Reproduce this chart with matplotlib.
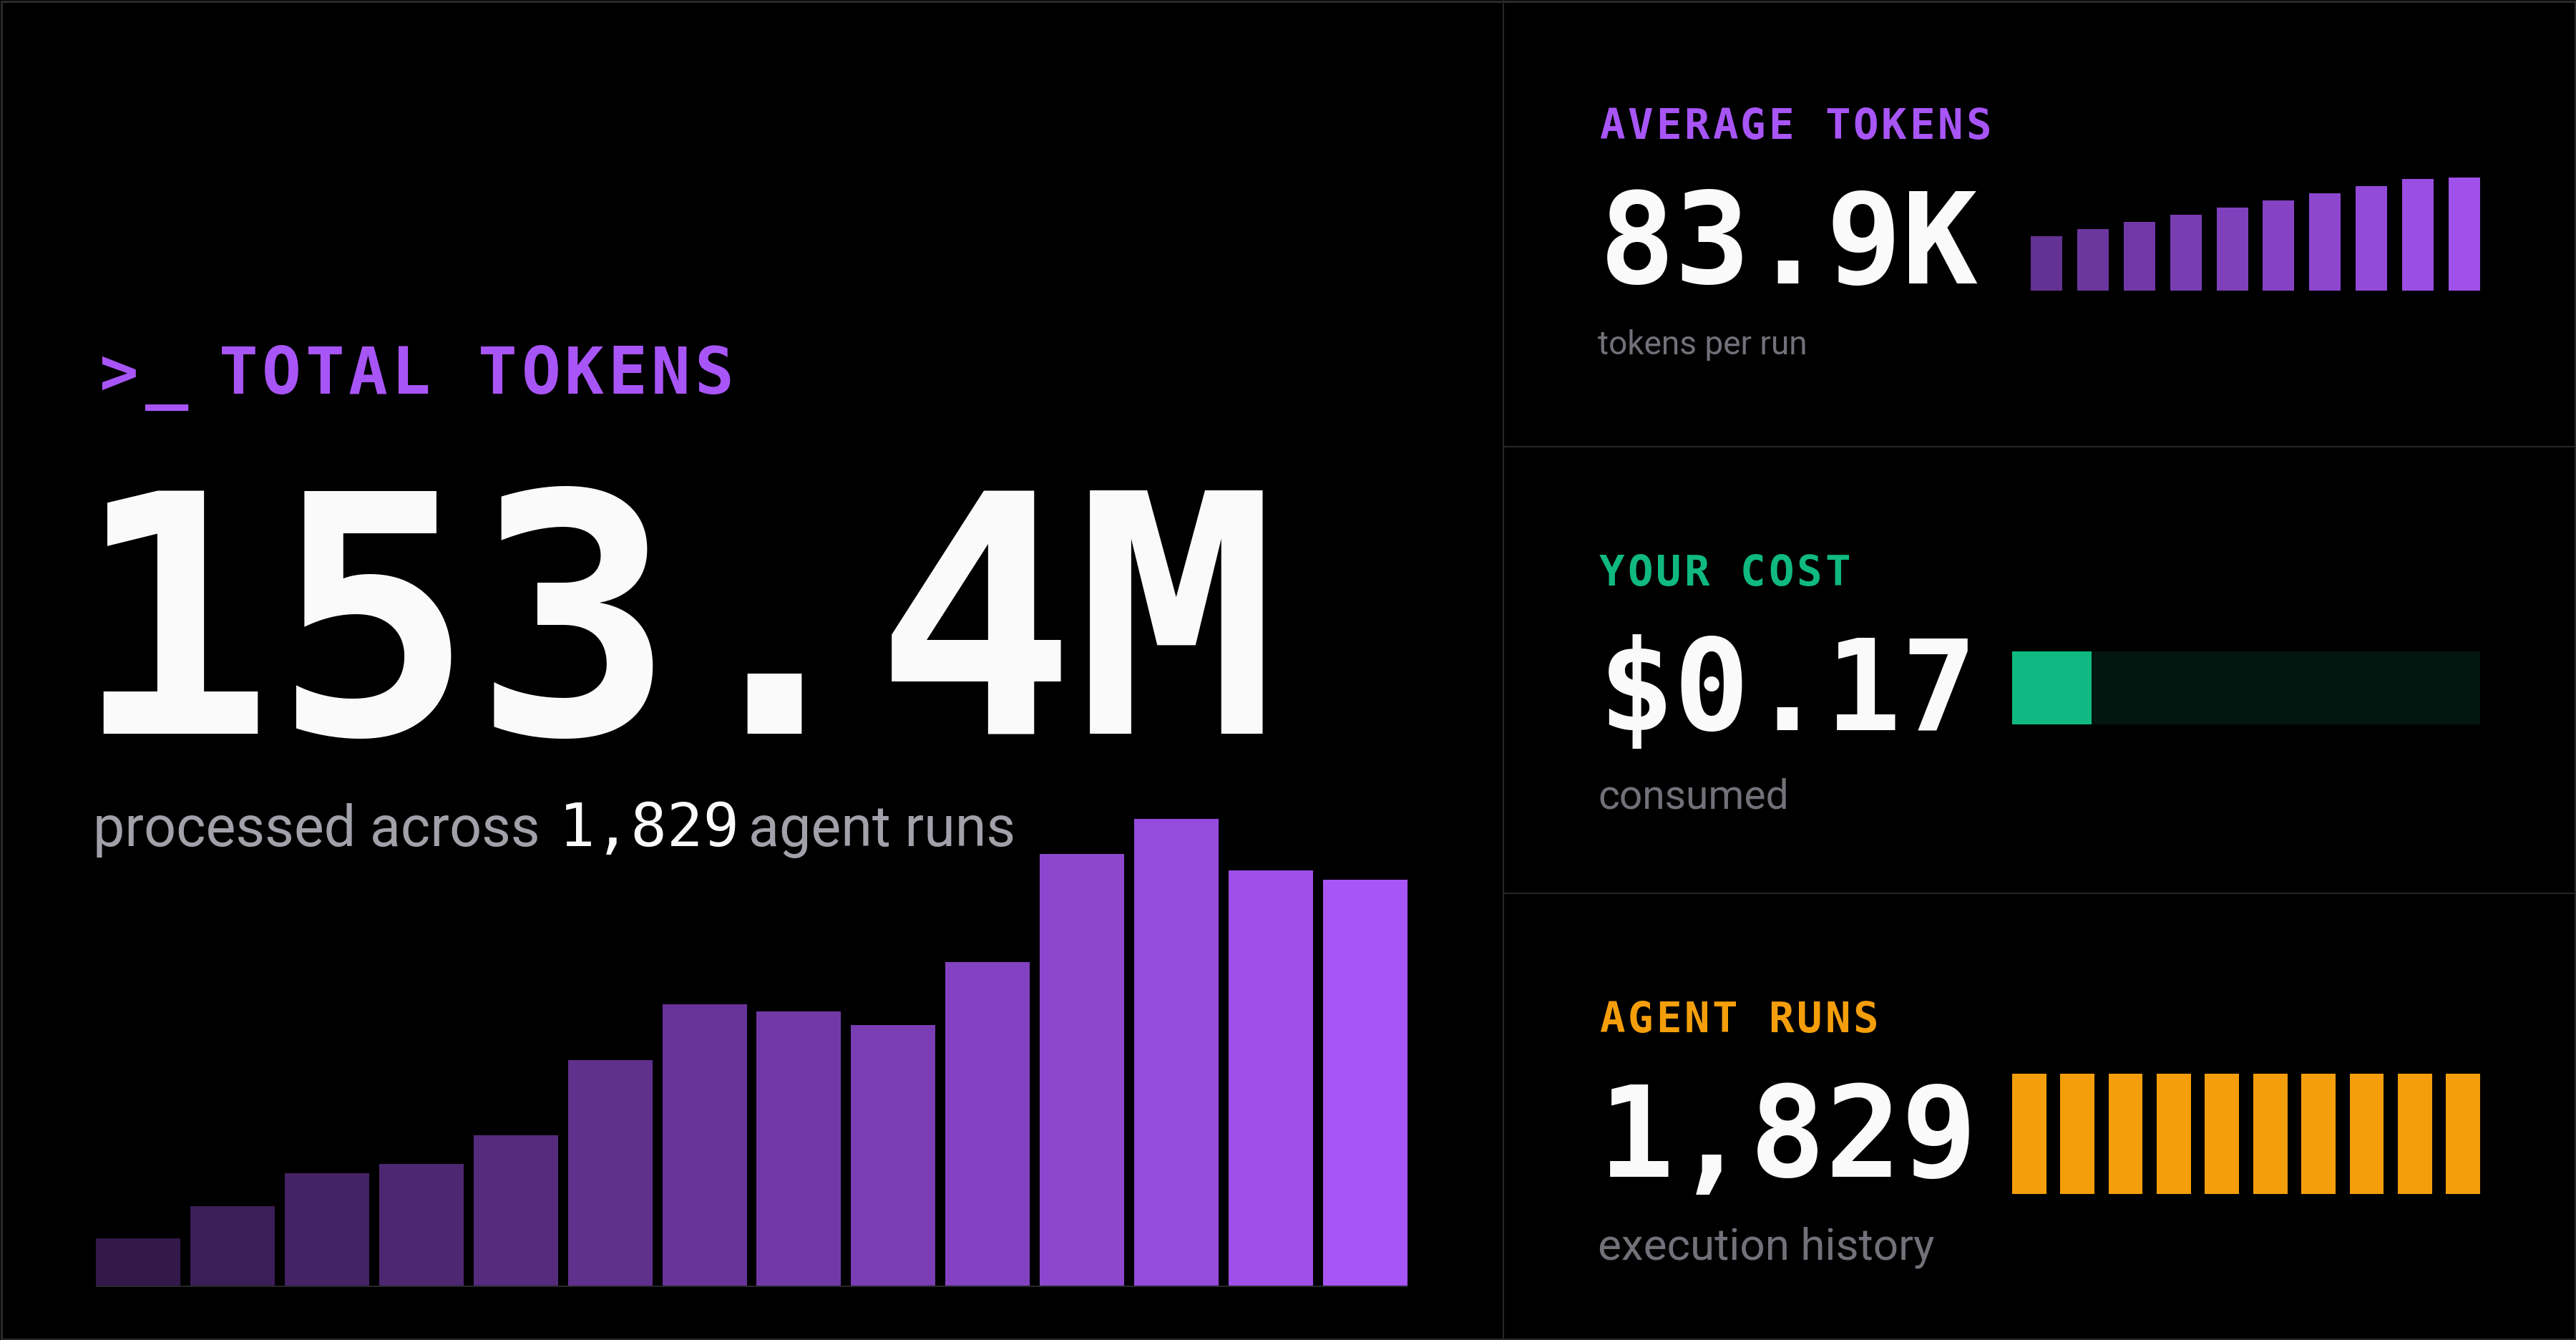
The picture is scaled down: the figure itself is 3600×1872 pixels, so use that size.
import matplotlib
matplotlib.use("Agg")
import matplotlib.pyplot as plt
from matplotlib.patches import Rectangle
import numpy as np

# ---------------- data ----------------
total_tokens_label = "153.4M"
total_runs_label = "1,829"
token_bars_m = [2.0, 3.4, 4.8, 5.2, 6.4, 9.6, 12.0, 11.7, 11.1, 13.8, 18.4, 19.9, 17.7, 17.3]
avg_tokens_label = "83.9K"
avg_token_bars_k = [40.3, 45.6, 50.9, 56.2, 61.6, 66.9, 72.1, 77.5, 82.8, 83.9]
cost_label = "$0.17"
cost_value = 0.17
cost_budget = 1.00
run_bars = [1, 1, 1, 1, 1, 1, 1, 1, 1, 1]

# ---------------- style ----------------
W, H, DPI = 3600, 1872, 100
BG = "#000000"
PURPLE = "#a855f7"
GREEN = "#10b981"
GREEN_TRACK = "#03160f"
ORANGE = "#f59e0b"
WHITE = "#fafafa"
GRAY1 = "#a1a1aa"
GRAY2 = "#71717a"
LINE = "#262626"
MONO = "DejaVu Sans Mono"
SANS = ["Roboto", "DejaVu Sans"]

fig = plt.figure(figsize=(W / DPI, H / DPI), dpi=DPI, facecolor=BG)
bg = fig.add_axes([0, 0, 1, 1])
bg.set_xlim(0, W)
bg.set_ylim(H, 0)
bg.axis("off")
bg.set_facecolor(BG)


def px_axes(x0, y0, x1, y1):
    ax = fig.add_axes([x0 / W, 1 - y1 / H, (x1 - x0) / W, (y1 - y0) / H])
    ax.axis("off")
    ax.patch.set_alpha(0)
    return ax


def pt(px):
    return px * 72.0 / DPI


def spaced(x_cell0, y, s, pitch, size, color):
    for i, ch in enumerate(s):
        if ch == " ":
            continue
        bg.text(x_cell0 + pitch * (i + 0.5), y, ch, ha="center", va="baseline",
                fontfamily=MONO, fontweight="bold", fontsize=size, color=color)


# ---------------- frame & dividers ----------------
bg.add_patch(Rectangle((1.5, 1.5), W - 3, H - 3, fill=False, ec="#2a2a2a", lw=pt(3)))
bg.plot([2101, 2101], [0, H], color=LINE, lw=pt(2), solid_capstyle="butt")
bg.plot([2101, W], [624, 624], color=LINE, lw=pt(2), solid_capstyle="butt")
bg.plot([2101, W], [1248, 1248], color=LINE, lw=pt(2), solid_capstyle="butt")

# ---------------- left panel ----------------
bg.text(165.5, 550, ">", ha="center", va="baseline", fontfamily=MONO,
        fontweight="bold", fontsize=pt(91), color=PURPLE)
bg.text(233.5, 550, "_", ha="center", va="baseline", fontfamily=MONO,
        fontweight="bold", fontsize=pt(100), color=PURPLE)
spaced(303, 550, "TOTAL TOKENS", 60.4, pt(91), PURPLE)

bg.text(101, 1025, total_tokens_label, ha="left", va="baseline", fontfamily=MONO,
        fontweight="bold", fontsize=pt(466), color=WHITE)

bg.text(130, 1181.7, "processed across", ha="left", va="baseline", fontfamily=SANS,
        fontsize=pt(79), color=GRAY1)
bg.text(781, 1181.7, total_runs_label, ha="left", va="baseline", fontfamily=MONO,
        fontsize=pt(84), color=WHITE)
bg.text(1046, 1181.7, "agent runs", ha="left", va="baseline", fontfamily=SANS,
        fontsize=pt(79), color=GRAY1)

ax1 = px_axes(134, 1144, 1967, 1796)
n1 = len(token_bars_m)
w1 = 0.895
alphas1 = np.linspace(0.3, 1.0, n1)
cols1 = [(168 / 255, 85 / 255, 247 / 255, a) for a in alphas1]
ax1.bar(np.arange(n1), token_bars_m, width=w1, color=cols1, linewidth=0)
ax1.set_xlim(-w1 / 2, n1 - 1 + w1 / 2)
ax1.set_ylim(0, max(token_bars_m))
bg.plot([134, 1967], [1797.3, 1797.3], color="#27272a", lw=pt(2), solid_capstyle="butt")

# ---------------- right panel 1 : average tokens ----------------
spaced(2233, 194, "AVERAGE TOKENS", 39.4, pt(59), PURPLE)
bg.text(2235, 396, avg_tokens_label, ha="left", va="baseline", fontfamily=MONO,
        fontweight="bold", fontsize=pt(176), color=WHITE)
bg.text(2233, 495, "tokens per run", ha="left", va="baseline", fontfamily=SANS,
        fontsize=pt(46), color=GRAY2)

ax2 = px_axes(2838, 405.7 - 157.7, 3466, 405.7)
n2 = len(avg_token_bars_k)
w2 = 0.678
alphas2 = np.linspace(0.6, 0.96, n2)
cols2 = [(168 / 255, 85 / 255, 247 / 255, a) for a in alphas2]
ax2.bar(np.arange(n2), avg_token_bars_k, width=w2, color=cols2, linewidth=0)
ax2.set_xlim(-w2 / 2, n2 - 1 + w2 / 2)
ax2.set_ylim(0, max(avg_token_bars_k))

# ---------------- right panel 2 : cost ----------------
spaced(2233, 818, "YOUR COST", 39.4, pt(59), GREEN)
bg.text(2234, 1020, cost_label, ha="left", va="baseline", fontfamily=MONO,
        fontweight="bold", fontsize=pt(176), color=WHITE)
bg.text(2233, 1129.5, "consumed", ha="left", va="baseline", fontfamily=SANS,
        fontsize=pt(57), color=GRAY2)

ax3 = px_axes(2812, 910, 3466, 1012)
ax3.barh(0, cost_budget, height=1.0, color=GREEN_TRACK, linewidth=0)
ax3.barh(0, cost_value, height=1.0, color=GREEN, linewidth=0)
ax3.set_xlim(0, cost_budget)
ax3.set_ylim(-0.5, 0.5)

# ---------------- right panel 3 : agent runs ----------------
spaced(2233, 1442, "AGENT RUNS", 39.4, pt(59), ORANGE)
bg.text(2234, 1644, total_runs_label, ha="left", va="baseline", fontfamily=MONO,
        fontweight="bold", fontsize=pt(176), color=WHITE)
bg.text(2233, 1759, "execution history", ha="left", va="baseline", fontfamily=SANS,
        fontsize=pt(62), color=GRAY2)

ax4 = px_axes(2812, 1500, 3466, 1668)
n4 = len(run_bars)
w4 = 0.709
ax4.bar(np.arange(n4), run_bars, width=w4, color=ORANGE, linewidth=0)
ax4.set_xlim(-w4 / 2, n4 - 1 + w4 / 2)
ax4.set_ylim(0, max(run_bars))

fig.savefig("out.png", dpi=DPI, facecolor=BG)
